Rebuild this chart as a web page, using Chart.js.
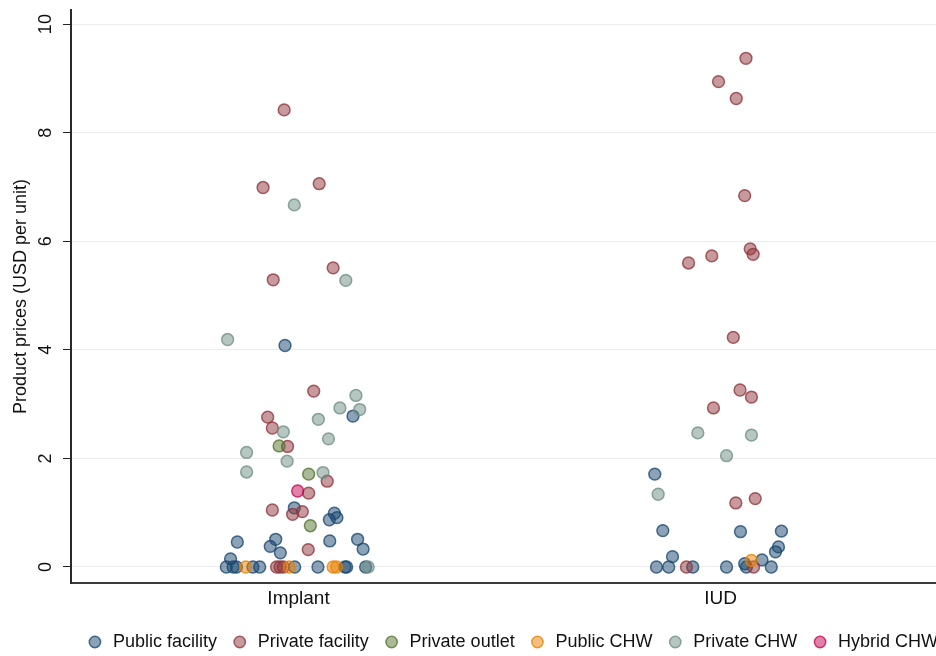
<!DOCTYPE html>
<html>
<head>
<meta charset="utf-8">
<script src="https://cdn.jsdelivr.net/npm/chart.js@4.4.1/dist/chart.umd.min.js"></script>
<style>
  html, body { margin: 0; padding: 0; background: #fff; overflow: hidden; }
  #wrap { width: 1024px; height: 661px; }
</style>
</head>
<body>
<div id="wrap"><canvas id="chart" width="1024" height="661"></canvas></div>
<script>
// categories on the x axis (Implant = 1, IUD = 2)
const categories = ['Implant', 'IUD'];
const yTicks = [0, 2, 4, 6, 8, 10];
const yTitle = 'Product prices (USD per unit)';
const seriesNames = ['Public facility', 'Private facility', 'Private outlet', 'Public CHW', 'Private CHW', 'Hybrid CHW'];

// each point: [jitter around the category, price in USD]
const publicFacilityImplant = [
    [-0.032, 4.08], [0.129, 2.78], [-0.010, 1.09], [0.085, 0.99], [0.073, 0.87], [0.091, 0.91],
    [-0.145, 0.46], [-0.054, 0.51], [-0.067, 0.38], [-0.043, 0.26], [0.074, 0.48], [0.140, 0.51],
    [0.153, 0.33], [-0.161, 0.15],
    [-0.171, 0], [-0.155, 0], [-0.147, 0], [-0.108, 0], [-0.092, 0], [-0.009, 0],
    [0.046, 0], [0.110, 0], [0.114, 0], [0.159, 0]
];
const publicFacilityIUD = [
    [-0.156, 1.71], [-0.137, 0.67], [0.047, 0.65], [0.144, 0.66], [0.137, 0.37], [0.130, 0.28],
    [-0.114, 0.19], [0.098, 0.13], [0.057, 0.06],
    [-0.152, 0], [-0.123, 0], [-0.066, 0], [0.014, 0], [0.061, 0], [0.120, 0]
];
const privateFacilityImplant = [
    [-0.034, 8.42], [-0.084, 6.99], [0.049, 7.06], [-0.060, 5.29], [0.082, 5.51], [0.036, 3.24],
    [-0.073, 2.76], [-0.062, 2.56], [-0.026, 2.22], [0.068, 1.58], [0.024, 1.36], [-0.062, 1.05],
    [-0.014, 0.97], [0.009, 1.02], [0.023, 0.32],
    [-0.052, 0], [-0.044, 0], [-0.036, 0]
];
const privateFacilityIUD = [
    [0.060, 9.37], [-0.005, 8.94], [0.037, 8.63], [0.057, 6.84], [0.070, 5.86], [0.077, 5.76],
    [-0.021, 5.73], [-0.076, 5.60], [0.030, 4.23], [0.046, 3.26], [0.073, 3.13], [-0.017, 2.93],
    [0.036, 1.18], [0.082, 1.26],
    [-0.081, 0], [0.078, 0]
];
const privateOutletImplant = [[-0.046, 2.23], [0.024, 1.71], [0.028, 0.76]];
const privateOutletIUD = [];
const publicCHWImplant = [[-0.125, 0], [-0.022, 0], [0.082, 0], [0.090, 0]];
const publicCHWIUD = [[0.073, 0.12]];
const privateCHWImplant = [
    [-0.010, 6.67], [0.112, 5.28], [-0.168, 4.19], [0.136, 3.16], [0.098, 2.93], [0.145, 2.90],
    [-0.036, 2.49], [0.047, 2.72], [0.071, 2.36], [-0.123, 2.11], [-0.027, 1.95], [-0.123, 1.75],
    [0.058, 1.74], [0.165, 0]
];
const privateCHWIUD = [[-0.054, 2.47], [0.073, 2.43], [0.014, 2.05], [-0.148, 1.34]];
const hybridCHWImplant = [[-0.002, 1.40]];
const hybridCHWIUD = [];

const seriesData = [
    [publicFacilityImplant, publicFacilityIUD],
    [privateFacilityImplant, privateFacilityIUD],
    [privateOutletImplant, privateOutletIUD],
    [publicCHWImplant, publicCHWIUD],
    [privateCHWImplant, privateCHWIUD],
    [hybridCHWImplant, hybridCHWIUD]
];
// Stata s2color: navy, maroon, forest_green, dkorange, teal, cranberry
const seriesColors = [[26, 71, 111], [144, 53, 59], [85, 117, 47], [232, 128, 0], [110, 142, 132], [193, 5, 82]];

const FONT = '"Liberation Sans", Arial, Helvetica, sans-serif';

function toPoints(perCat) {
    const pts = [];
    perCat.forEach((arr, c) => {
        arr.forEach(([j, p]) => pts.push({ x: c + 1 + j, y: p }));
    });
    return pts;
}

const datasets = seriesNames.map((name, i) => {
    const [r, g, b] = seriesColors[i];
    return {
        label: name,
        data: toPoints(seriesData[i]),
        backgroundColor: `rgba(${r},${g},${b},0.5)`,
        borderColor: `rgba(${r},${g},${b},0.78)`,
        borderWidth: 1.5,
        pointRadius: 5.9,
        pointHoverRadius: 5.9,
        pointStyle: 'circle',
        order: seriesNames.length - i
    };
});

// y tick labels and title are rotated like Stata's
const yAxisText = {
    id: 'yAxisText',
    afterDraw(chart) {
        const ctx = chart.ctx;
        const yScale = chart.scales.y;
        ctx.save();
        ctx.fillStyle = '#111';
        ctx.textAlign = 'center';
        ctx.textBaseline = 'middle';
        ctx.font = '18px ' + FONT;
        yTicks.forEach(v => {
            ctx.save();
            ctx.translate(46, yScale.getPixelForValue(v));
            ctx.rotate(-Math.PI / 2);
            ctx.fillText(String(v), 0, 0);
            ctx.restore();
        });
        ctx.translate(21, (chart.chartArea.top + chart.chartArea.bottom) / 2);
        ctx.rotate(-Math.PI / 2);
        ctx.fillText(yTitle, 0, 0);
        ctx.restore();
    }
};

new Chart(document.getElementById('chart'), {
    type: 'scatter',
    data: { datasets },
    options: {
        responsive: false,
        animation: false,
        devicePixelRatio: 1,
        layout: { autoPadding: false, padding: { top: 10, left: 0, right: 0, bottom: 0 } },
        plugins: {
            tooltip: { enabled: false },
            legend: {
                position: 'bottom',
                labels: {
                    usePointStyle: true,
                    boxWidth: 18,
                    boxHeight: 8,
                    padding: 13.8,
                    color: '#111',
                    font: { family: FONT, size: 18 },
                    sort: (a, b) => a.datasetIndex - b.datasetIndex
                }
            }
        },
        scales: {
            x: {
                type: 'linear',
                min: 0.461,
                max: 2.7187,
                afterBuildTicks: (scale) => { scale.ticks = categories.map((c, i) => ({ value: i + 1 })); },
                afterFit: (scale) => {
                    scale.height = 36.2;
                    scale.paddingLeft = 0;
                    scale.paddingRight = 0;
                },
                ticks: {
                    callback: (v) => categories[Math.round(v) - 1],
                    color: '#111',
                    font: { family: FONT, size: 19 },
                    padding: 4,
                    autoSkip: false,
                    maxRotation: 0
                },
                grid: { display: false, drawTicks: false },
                border: { display: true, color: '#3a3a3a', width: 2 }
            },
            y: {
                min: -0.295,
                max: 10.26,
                afterBuildTicks: (scale) => { scale.ticks = yTicks.map(v => ({ value: v })); },
                afterFit: (scale) => { scale.width = 71; },
                ticks: { display: false },
                grid: { color: '#ececec', lineWidth: 1, tickColor: '#222', tickLength: 8 },
                border: { display: true, color: '#2a2a2a', width: 2 }
            }
        }
    },
    plugins: [yAxisText]
});
</script>
</body>
</html>
